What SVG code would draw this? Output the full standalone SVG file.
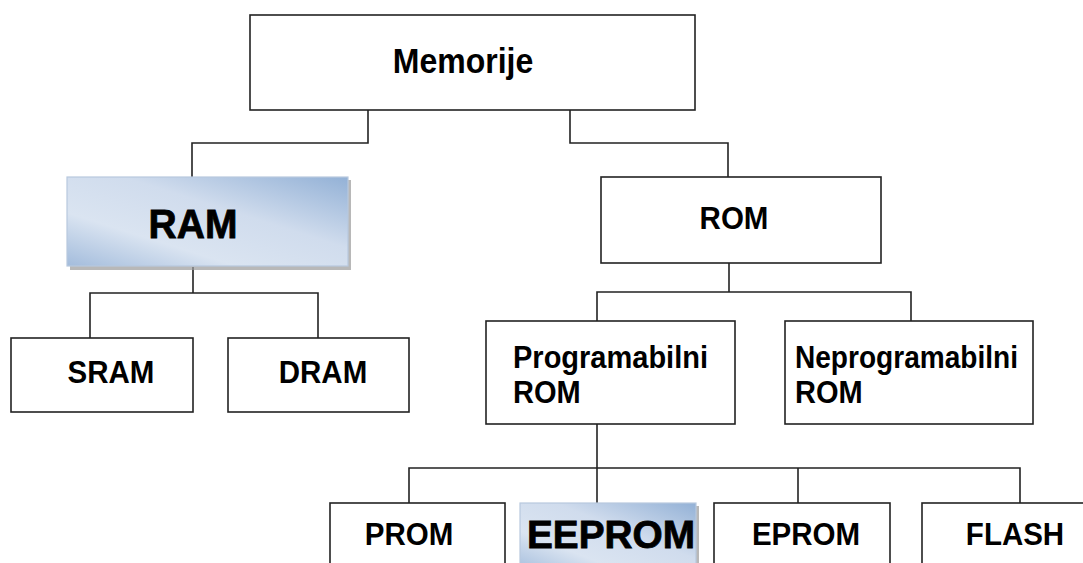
<svg xmlns="http://www.w3.org/2000/svg" width="1083" height="563" viewBox="0 0 1083 563">
<style>
.box{fill:#fff;stroke:#222;stroke-width:1.6}
.hl{stroke:#b8c9de;stroke-width:1.2}
.shadow{fill:#9a9a9a;opacity:0.7}
.t{font-family:"Liberation Sans",Arial,sans-serif;font-weight:bold;font-size:29.5px;fill:#000;text-anchor:middle}
.tl{font-family:"Liberation Sans",Arial,sans-serif;font-weight:bold;font-size:29px;fill:#000}
.big{font-family:"Liberation Sans",Arial,sans-serif;font-weight:bold;font-size:39px;fill:#000;stroke:#000;stroke-width:0.8;text-anchor:middle}
.c{fill:none;stroke:#222;stroke-width:1.6}
</style>
<defs>
<linearGradient id="g" x1="0" y1="1" x2="1" y2="0">
<stop offset="0" stop-color="#a3bcdc"/>
<stop offset="0.3" stop-color="#dae4f1"/>
<stop offset="0.6" stop-color="#d0dced"/>
<stop offset="1" stop-color="#93b1d6"/>
</linearGradient>
</defs>
<g id="connectors">
<polyline class="c" points="368,110 368,143 192,143 192,177"/>
<polyline class="c" points="570,110 570,143 728,143 728,177"/>
<polyline class="c" points="193,267 193,293"/>
<polyline class="c" points="90,338 90,293 318,293 318,338"/>
<polyline class="c" points="729,263 729,292"/>
<polyline class="c" points="597,321 597,292 911,292 911,321"/>
<polyline class="c" points="597,424 597,503"/>
<polyline class="c" points="409,503 409,468 1020,468 1020,503"/>
<polyline class="c" points="798,468 798,503"/>
</g>
<g id="memorije">
<rect class="box" x="250" y="15" width="445" height="95"/>
<text class="t" transform="translate(463,73) scale(1,1.08)" style="font-size:32px">Memorije</text>
</g>
<g id="ram">
<rect class="shadow" x="70" y="180" width="281" height="90"/>
<rect class="hl" x="67" y="177" width="281" height="89" fill="url(#g)"/>
<text class="big" transform="translate(193,238) scale(1,1.04)">RAM</text>
</g>
<g id="rom">
<rect class="box" x="601" y="177" width="280" height="86"/>
<text class="t" transform="translate(734,229) scale(1,1.06)">ROM</text>
</g>
<g id="sram">
<rect class="box" x="11" y="338" width="182" height="74"/>
<text class="t" transform="translate(111,383) scale(1,1.06)">SRAM</text>
</g>
<g id="dram">
<rect class="box" x="228" y="338" width="181" height="74"/>
<text class="t" transform="translate(323,383) scale(1,1.06)">DRAM</text>
</g>
<g id="programabilni">
<rect class="box" x="486" y="321" width="249" height="103"/>
<text class="tl" transform="translate(513,368) scale(1,1.06)" textLength="195" lengthAdjust="spacingAndGlyphs">Programabilni</text>
<text class="tl" transform="translate(513,403) scale(1,1.06)">ROM</text>
</g>
<g id="neprogramabilni">
<rect class="box" x="785" y="321" width="248" height="103"/>
<text class="tl" transform="translate(795,368) scale(1,1.06)" textLength="223" lengthAdjust="spacingAndGlyphs">Neprogramabilni</text>
<text class="tl" transform="translate(795,403) scale(1,1.06)">ROM</text>
</g>
<g id="prom">
<rect class="box" x="330" y="503" width="175" height="70"/>
<text class="t" transform="translate(409,545) scale(1,1.06)">PROM</text>
</g>
<g id="eeprom">
<rect class="shadow" x="523" y="506" width="176" height="70"/>
<rect class="hl" x="520" y="503" width="176" height="70" fill="url(#g)"/>
<text class="big" x="611" y="548" textLength="168" lengthAdjust="spacingAndGlyphs">EEPROM</text>
</g>
<g id="eprom">
<rect class="box" x="714" y="503" width="176" height="70"/>
<text class="t" transform="translate(806,545) scale(1,1.06)">EPROM</text>
</g>
<g id="flash">
<rect class="box" x="922" y="503" width="175" height="70"/>
<text class="t" transform="translate(1015,545) scale(1,1.06)">FLASH</text>
</g>
</svg>
